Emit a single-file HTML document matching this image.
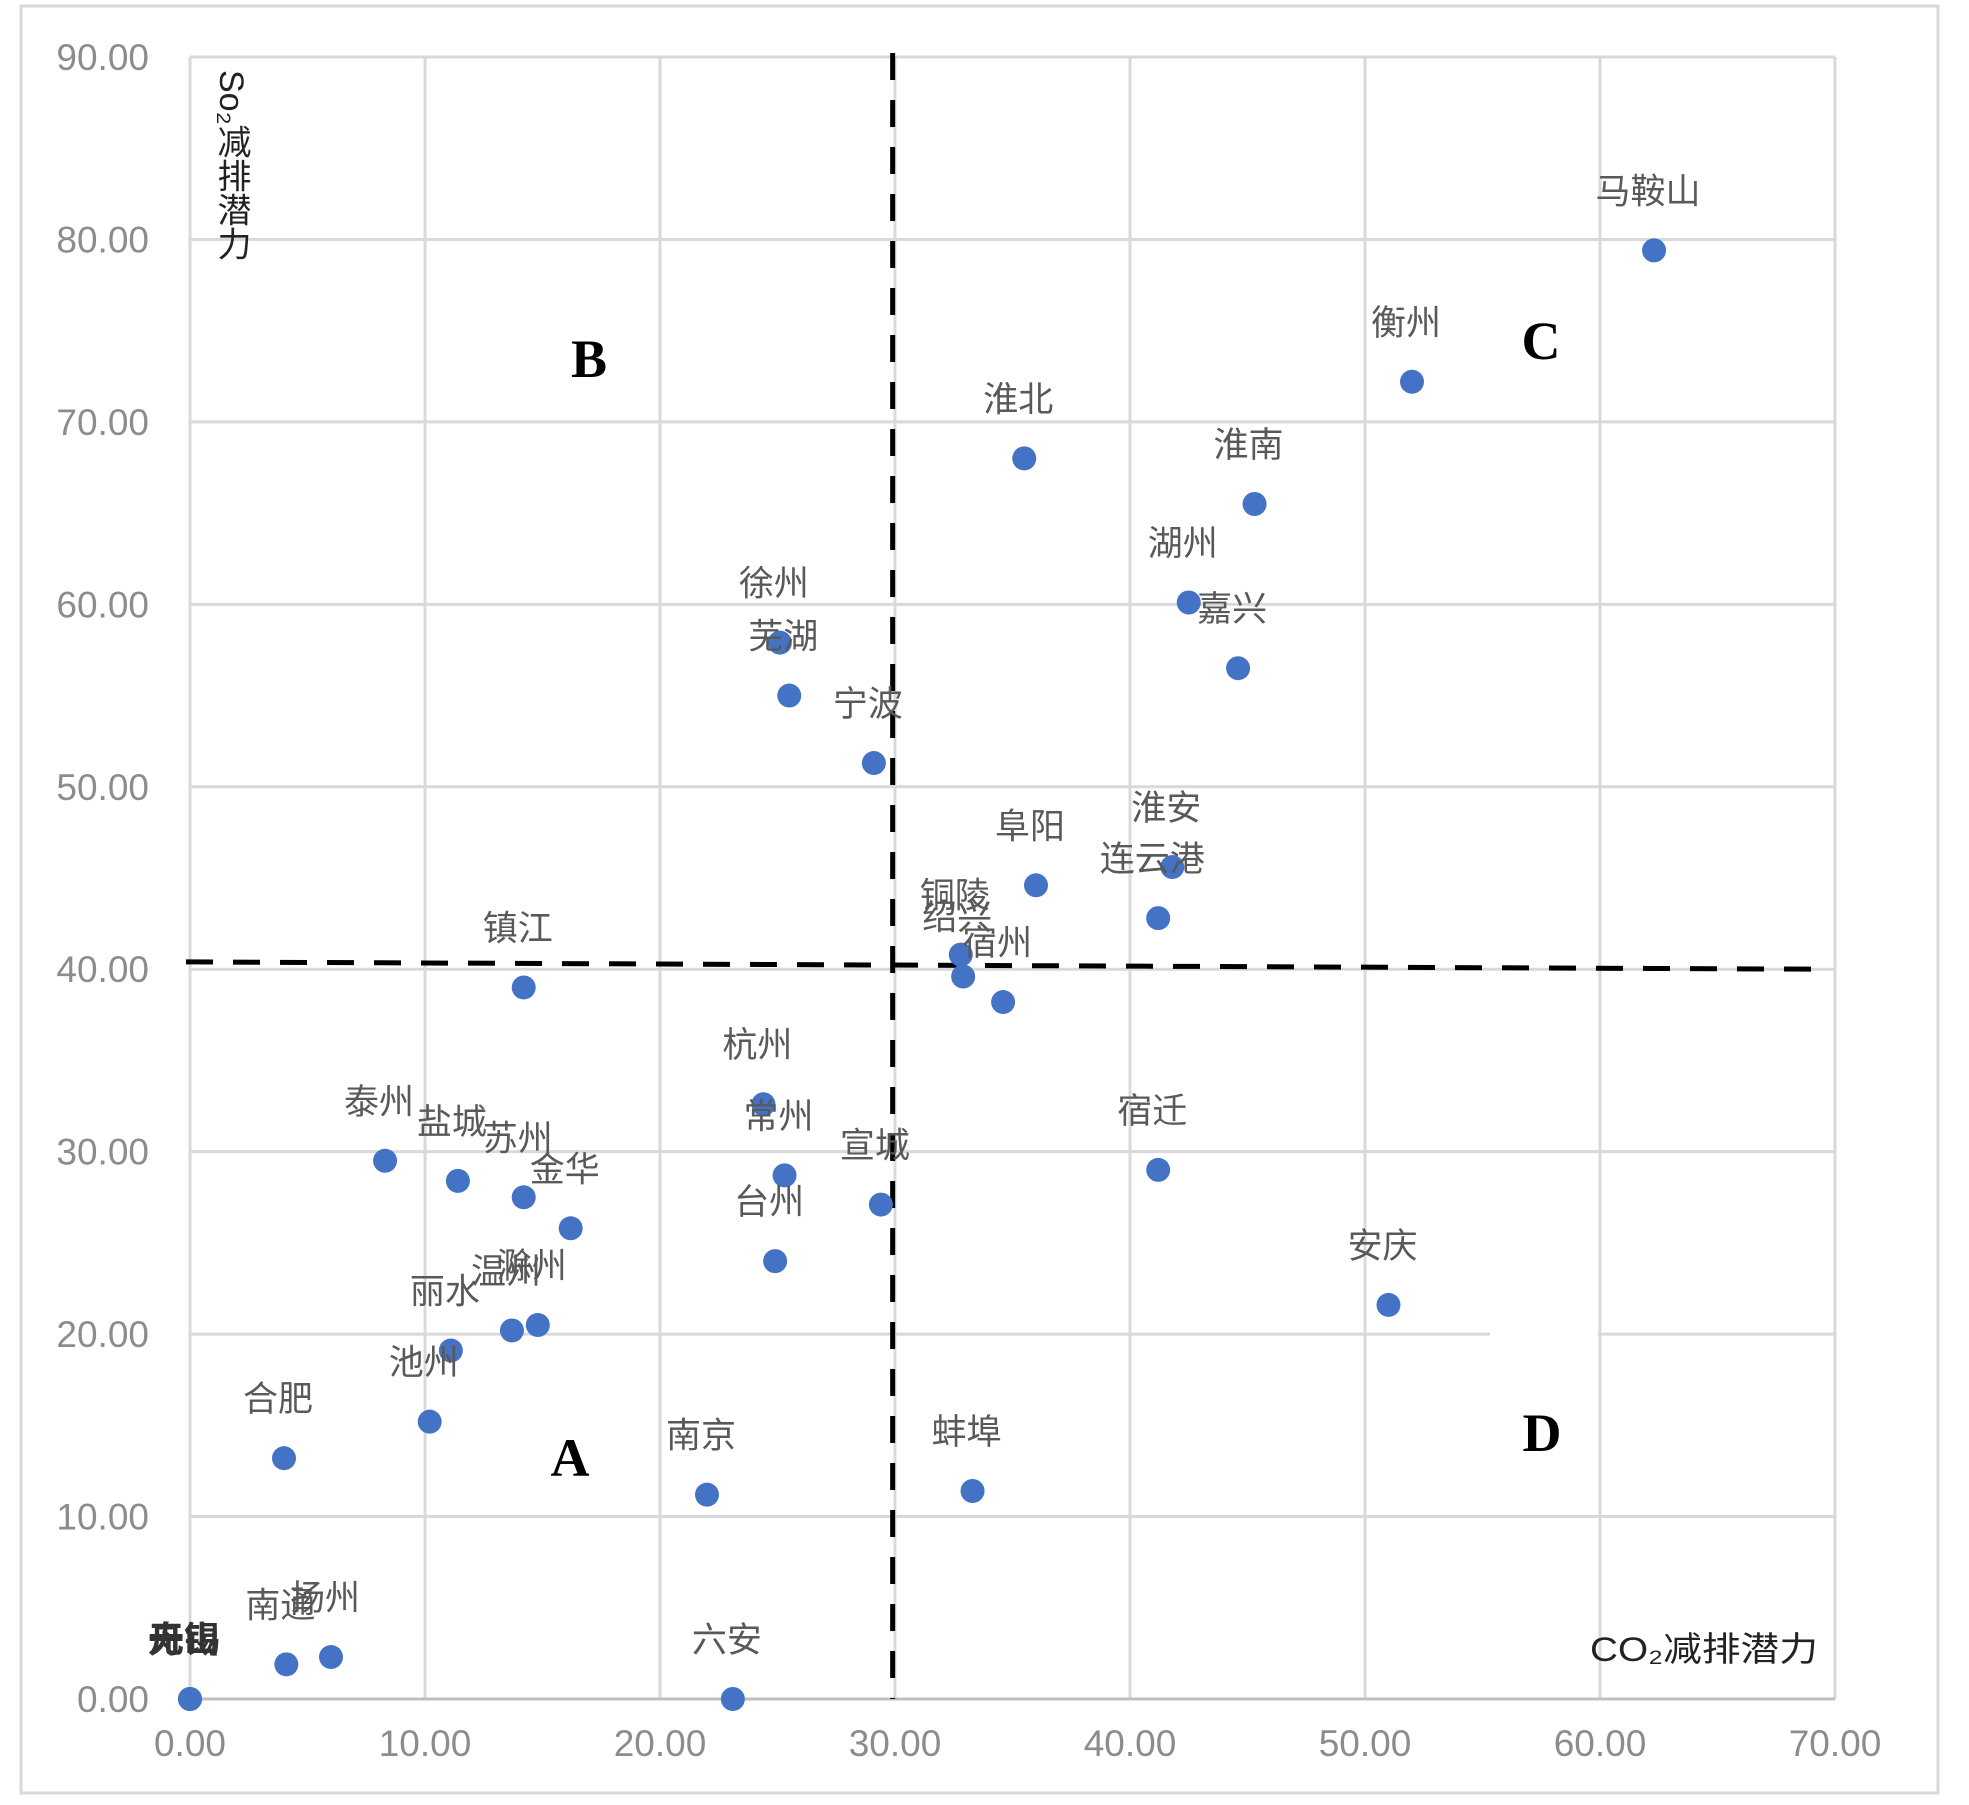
<!DOCTYPE html>
<html><head><meta charset="utf-8"><style>
html,body{margin:0;padding:0;background:#fff;}
svg{display:block;}
</style></head><body>
<svg id="chart" width="1969" height="1805" viewBox="0 0 1969 1805" xmlns="http://www.w3.org/2000/svg">
<rect x="21" y="6" width="1917" height="1787" fill="#fff" stroke="#d9d9d9" stroke-width="3"/>
<g id="grid"></g>
<g id="ticks"></g>
<g id="quad"></g>
<g id="marks"></g>
<g id="labels"></g>
<text x="231" y="70" font-family="'Liberation Sans','Noto Sans CJK SC',sans-serif" font-size="34" fill="#222" style="writing-mode:vertical-rl;text-orientation:mixed">So₂减排潜力</text>
<text x="1818" y="1661" text-anchor="end" font-family="'Liberation Sans','Noto Sans CJK SC',sans-serif" font-size="34" fill="#222" textLength="228" lengthAdjust="spacingAndGlyphs">CO₂减排潜力</text>
<g font-family="'Liberation Serif',serif" font-weight="bold" font-size="54" fill="#000" text-anchor="middle">
<text x="589" y="377">B</text>
<text x="1541" y="359">C</text>
<text x="570" y="1476">A</text>
<text x="1542" y="1451">D</text>
</g>
</svg>
<script>
const xTicks=[0,10,20,30,40,50,60,70];
const yTicks=[0,10,20,30,40,50,60,70,80,90];
const cities=["马鞍山","衡州","淮北","淮南","湖州","嘉兴","徐州","芜湖","宁波","阜阳","淮安","连云港","铜陵","绍兴","宿州","镇江","杭州","常州","宣城","台州","宿迁","安庆","泰州","盐城","苏州","金华","滁州","温州","丽水","池州","合肥","南京","蚌埠","六安","南通","扬州","无锡","舟山"];
const co2=[62.3,52.0,35.5,45.3,42.5,44.6,25.1,25.5,29.1,36.0,41.8,41.2,32.8,32.9,34.6,14.2,24.4,25.3,29.4,24.9,41.2,51.0,8.3,11.4,14.2,16.2,14.8,13.7,11.1,10.2,4.0,22.0,33.3,23.1,4.1,6.0,0,0];
const so2=[79.4,72.2,68.0,65.5,60.1,56.5,57.9,55.0,51.3,44.6,45.6,42.8,40.8,39.6,38.2,39.0,32.6,28.7,27.1,24.0,29.0,21.6,29.5,28.4,27.5,25.8,20.5,20.2,19.1,15.2,13.2,11.2,11.4,0.0,1.9,2.3,0,0];
const xDivider=29.9;
const yDividerLeft=40.4, yDividerRight=40.0;

const X0=190,X1=1835,Y0=1699,Y1=57;
const sx=v=>X0+(v-0)/(70-0)*(X1-X0);
const sy=v=>Y0-(v-0)/(90-0)*(Y0-Y1);
const NS="http://www.w3.org/2000/svg";
function mk(tag,attrs,parent){const e=document.createElementNS(NS,tag);for(const k in attrs)e.setAttribute(k,attrs[k]);parent.appendChild(e);return e;}
const grid=document.getElementById('grid'),ticks=document.getElementById('ticks');
xTicks.forEach(t=>{
  const l=mk('line',{x1:sx(t),x2:sx(t),y1:sy(90),y2:sy(0),stroke:'#d9d9d9','stroke-width':3},grid);
  
  
  const tx=mk('text',{x:sx(t),y:1756,'text-anchor':'middle','font-family':'Liberation Sans,sans-serif','font-size':37,fill:'#8c8c8c'},ticks);
  tx.textContent=t.toFixed(2);
  
  
});
yTicks.forEach(t=>{
  const l=mk('line',{x1:sx(0),x2:sx(70),y1:sy(t),y2:sy(t),stroke:t===0?'#bfbfbf':'#d9d9d9','stroke-width':3},grid);
  
  
  const tx=mk('text',{x:149,y:sy(t)+13,'text-anchor':'end','font-family':'Liberation Sans,sans-serif','font-size':37,fill:'#8c8c8c'},ticks);
  tx.textContent=t.toFixed(2);
  
  
});
const wr=mk('rect',{x:1490,y:sy(20)-3,width:108,height:6,fill:'#fff'},grid);


const quad=document.getElementById('quad');
const vd=mk('line',{x1:sx(xDivider),x2:sx(xDivider),y1:53,y2:sy(0),stroke:'#000','stroke-width':5,'stroke-dasharray':'27 20'},quad);


const hd=mk('line',{x1:186,x2:1826,y1:sy(yDividerLeft),y2:sy(yDividerRight),stroke:'#000','stroke-width':5,'stroke-dasharray':'27 20'},quad);


const marks=document.getElementById('marks'),labels=document.getElementById('labels');
cities.forEach((c,i)=>{
  const p=mk('circle',{cx:sx(co2[i]),cy:sy(so2[i]),r:12,fill:'#4472c4'},marks);
  
  
  const bold=(i>=36);
  const t=mk('text',{x:sx(co2[i])-6,y:sy(so2[i])-47,'text-anchor':'middle','font-family':'Liberation Sans,Noto Sans CJK SC,sans-serif','font-size':bold?36:35,fill:bold?'#333':'#595959','font-weight':bold?'bold':'normal'},labels);
  t.textContent=c;
  
  
});
</script>
</body></html>
